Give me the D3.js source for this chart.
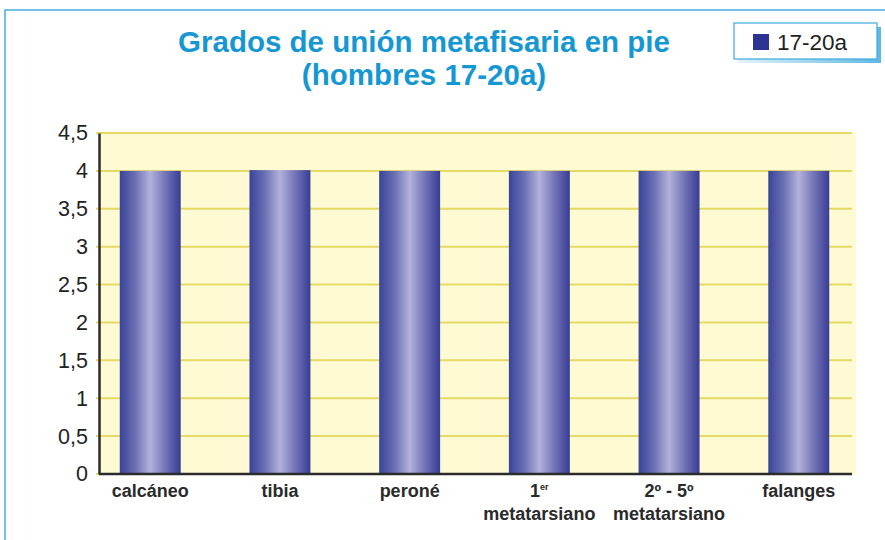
<!DOCTYPE html>
<html><head><meta charset="utf-8">
<script src="https://cdn.jsdelivr.net/npm/d3@7"></script>
<style>
html,body{margin:0;padding:0;background:#fff;}
svg{display:block;font-family:"Liberation Sans",Arial,sans-serif;}
</style></head>
<body>
<svg id="c" width="885" height="540"></svg>
<script>
const categories = [["calcáneo"], ["tibia"], ["peroné"], ["1|er", "metatarsiano"], ["2º - 5º", "metatarsiano"], ["falanges"]];
const values = [4.0, 4.01, 4.0, 4.0, 4.0, 4.0];
const yTicks = [0, 0.5, 1, 1.5, 2, 2.5, 3, 3.5, 4, 4.5];
const seriesName = "17-20a";
const titleLines = ["Grados de unión metafisaria en pie", "(hombres 17-20a)"];

const svg = d3.select("#c");
const defs = svg.append("defs");
const g1 = defs.append("linearGradient").attr("id","bar").attr("x1","0").attr("x2","1").attr("y1","0").attr("y2","0");
[[0,"#394499"],[0.25,"#6b6fb3"],[0.5,"#b2b2da"],[0.75,"#7373b6"],[1,"#373d96"]].forEach(([o,c])=>g1.append("stop").attr("offset",o).attr("stop-color",c));
const g2 = defs.append("linearGradient").attr("id","shadow").attr("x1","0").attr("x2","1").attr("y1","0").attr("y2","0");
[[0,"#e3f2fb"],[1,"#5fb8e3"]].forEach(([o,c])=>g2.append("stop").attr("offset",o).attr("stop-color",c));

// outer frame
svg.append("rect").attr("x",5).attr("y",10).attr("width",900).attr("height",560)
  .attr("fill","none").attr("stroke","#46ade0").attr("stroke-width",1.5);

const pLeft = 99, pRight = 850, pTop = 133, pBottom = 474;
const x = d3.scaleBand().domain(categories.map((d,i)=>i)).range([pLeft,pRight]).paddingInner(0.53).paddingOuter(0.16);
const y = d3.scaleLinear().domain([0,4.5]).range([pBottom, pTop]);

// plot background
svg.append("rect").attr("x",pLeft).attr("y",pTop).attr("width",856-pLeft).attr("height",pBottom-pTop).attr("fill","#fefad4");

// gridlines
svg.append("g").selectAll("line").data(yTicks).join("line")
  .attr("x1",pLeft-3).attr("x2",852).attr("y1",d=>y(d)).attr("y2",d=>y(d))
  .attr("stroke","#e6d964").attr("stroke-width",2);

// bars
svg.append("g").selectAll("rect").data(values).join("rect")
  .attr("x",(d,i)=>x(i)).attr("width",x.bandwidth())
  .attr("y",d=>y(d)).attr("height",d=>y(0)-y(d))
  .attr("fill","url(#bar)");

// axes
const yAxis = d3.axisLeft(y).tickValues(yTicks).tickSize(0).tickPadding(11)
  .tickFormat(d=>String(d).replace(".",","));
const ya = svg.append("g").attr("transform",`translate(${pLeft},0)`).call(yAxis);
ya.select(".domain").attr("stroke","#2b2b2b").attr("stroke-width",2.5);
ya.selectAll("text").attr("font-size",21.5).attr("fill","#222").attr("font-family","'Liberation Sans',Arial,sans-serif");

const xAxis = d3.axisBottom(x).tickSize(0).tickFormat("");
const xa = svg.append("g").attr("transform",`translate(0,${pBottom})`).call(xAxis);
xa.select(".domain").attr("d",`M${pLeft},0H852`).attr("stroke","#2b2b2b").attr("stroke-width",2.5);

// x labels
const lab = svg.append("g").attr("font-size",18).attr("font-weight","bold").attr("fill","#2a2a2a").attr("text-anchor","middle");
categories.forEach((lines,i)=>{
  const cx = x(i)+x.bandwidth()/2;
  lines.forEach((ln,j)=>{
    const t = lab.append("text").attr("x",cx).attr("y",497+j*23);
    if(ln.includes("|")){
      const [a,b] = ln.split("|");
      t.append("tspan").text(a);
      t.append("tspan").attr("font-size",9).attr("dy",-7).text(b);
    } else t.text(ln);
  });
});

// title
svg.append("g").selectAll("text").data(titleLines).join("text")
  .attr("x",424).attr("y",(d,i)=>52+i*33).attr("text-anchor","middle")
  .attr("font-size",29.5).attr("font-weight","bold").attr("fill","#1597d3").text(d=>d);

// legend
const lg = svg.append("g");
lg.append("rect").attr("x",738).attr("y",27).attr("width",143).attr("height",36).attr("fill","url(#shadow)");
lg.append("rect").attr("x",734).attr("y",23).attr("width",143).attr("height",36).attr("fill","#fff").attr("stroke","#3aa9dc").attr("stroke-width",1.2);
lg.append("rect").attr("x",753).attr("y",34).attr("width",16).attr("height",16).attr("fill","#2d3392");
lg.append("text").attr("x",777).attr("y",50).attr("font-size",22.5).attr("fill","#222").text(seriesName);
</script>
</body></html>
